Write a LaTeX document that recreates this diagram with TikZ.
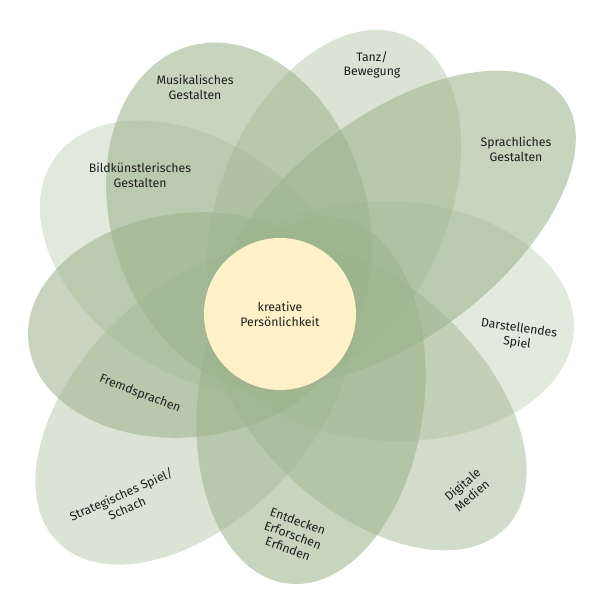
\documentclass[tikz,border=0pt]{standalone}
\usepackage{fontspec}
\setmainfont{Fira Sans}
\definecolor{petalgreen}{RGB}{157,180,141}
\definecolor{coreyellow}{RGB}{254,241,199}
\definecolor{labelgray}{RGB}{30,30,30}
\tikzset{
  petal/.style={fill=petalgreen, fill opacity=#1},
  lbl/.style={text=labelgray, font=\fontsize{12.3}{14.6}\selectfont, align=center, inner sep=1pt},
}
\begin{document}
\begin{tikzpicture}[x=1pt,y=-1pt]
\useasboundingbox (0,0) rectangle (600,613);
\fill[white] (0,0) rectangle (600,613);
% petals
\fill[petal=0.37, rotate around={67:(334,205)}] (334,205) ellipse [x radius=184, y radius=114];
\fill[petal=0.57, rotate around={107:(239,216)}] (239,216) ellipse [x radius=177, y radius=128];
\fill[petal=0.30, rotate around={145.2:(196,257)}] (196,257) ellipse [x radius=172.5, y radius=115];
\fill[petal=0.56, rotate around={186.5:(189,325)}] (189,325) ellipse [x radius=161.5, y radius=112];
\fill[petal=0.36, rotate around={225:(194,406)}] (194,406) ellipse [x radius=192.5, y radius=115];
\fill[petal=0.57, rotate around={262.5:(311,400)}] (311,400) ellipse [x radius=185, y radius=113];
\fill[petal=0.46, rotate around={-43:(368,397)}] (368,397) ellipse [x radius=190, y radius=112];
\fill[petal=0.29, rotate around={-2.8:(390,321)}] (390,321) ellipse [x radius=184, y radius=120];
\fill[petal=0.57, rotate around={37.5:(394,227)}] (394,227) ellipse [x radius=213, y radius=110];
% centre
\node[circle, fill=coreyellow, minimum size=152pt, inner sep=0pt, lbl] (core) at (280,314) {kreative\\Persönlichkeit};
% labels
\node[lbl] (tanz) at (372,65) {Tanz/\\Bewegung};
\node[lbl] (musik) at (195,87) {Musikalisches\\Gestalten};
\node[lbl] (bild) at (140,175) {Bildkünstlerisches\\Gestalten};
\node[lbl] (sprach) at (516,149) {Sprachliches\\Gestalten};
\node[lbl, rotate=-8] (darst) at (518,336) {Darstellendes\\Spiel};
\node[lbl, rotate=40] (digi) at (467,490) {Digitale\\Medien};
\node[lbl, rotate=-20] (entd) at (293,535) {Entdecken\\Erforschen\\Erfinden};
\node[lbl, rotate=24] (strat) at (124,501) {Strategisches Spiel/\\Schach};
\node[lbl, rotate=-21] (fremd) at (140,394) {Fremdsprachen};
\end{tikzpicture}
\end{document}
